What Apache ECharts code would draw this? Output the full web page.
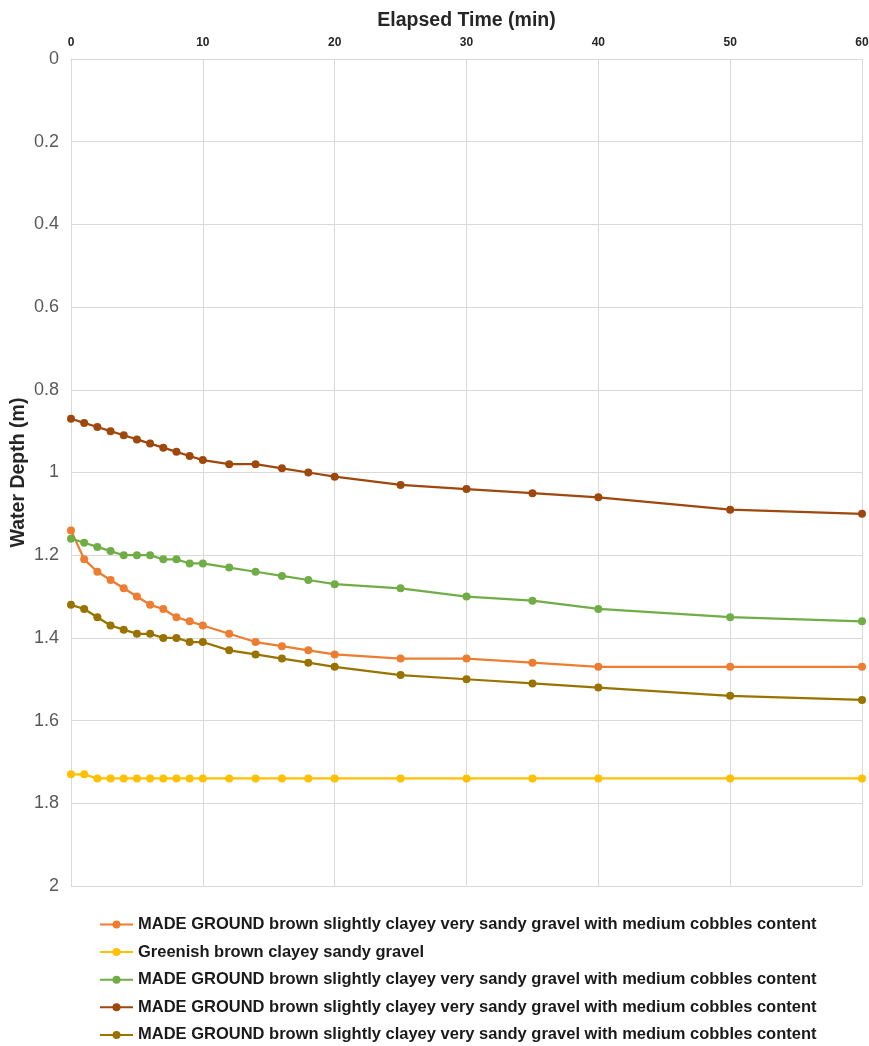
<!DOCTYPE html>
<html>
<head>
<meta charset="utf-8">
<script src="https://cdn.jsdelivr.net/npm/echarts@6/dist/echarts.min.js"></script>
<style>
  html, body { margin: 0; padding: 0; background: #ffffff; }
  #chart { width: 869px; height: 1046px; }
</style>
</head>
<body>
<div id="chart"></div>
<script>
// Elapsed time of each reading (min)
const elapsedMinutes = [0, 1, 2, 3, 4, 5, 6, 7, 8, 9, 10, 12, 14, 16, 18, 20, 25, 30, 35, 40, 50, 60];

// Water depth readings (m) for each test
const depthOrange = [1.14, 1.21, 1.24, 1.26, 1.28, 1.30, 1.32, 1.33, 1.35, 1.36, 1.37, 1.39, 1.41, 1.42, 1.43, 1.44, 1.45, 1.45, 1.46, 1.47, 1.47, 1.47];
const depthYellow = [1.73, 1.73, 1.74, 1.74, 1.74, 1.74, 1.74, 1.74, 1.74, 1.74, 1.74, 1.74, 1.74, 1.74, 1.74, 1.74, 1.74, 1.74, 1.74, 1.74, 1.74, 1.74];
const depthGreen  = [1.16, 1.17, 1.18, 1.19, 1.20, 1.20, 1.20, 1.21, 1.21, 1.22, 1.22, 1.23, 1.24, 1.25, 1.26, 1.27, 1.28, 1.30, 1.31, 1.33, 1.35, 1.36];
const depthBrown  = [0.87, 0.88, 0.89, 0.90, 0.91, 0.92, 0.93, 0.94, 0.95, 0.96, 0.97, 0.98, 0.98, 0.99, 1.00, 1.01, 1.03, 1.04, 1.05, 1.06, 1.09, 1.10];
const depthOlive  = [1.32, 1.33, 1.35, 1.37, 1.38, 1.39, 1.39, 1.40, 1.40, 1.41, 1.41, 1.43, 1.44, 1.45, 1.46, 1.47, 1.49, 1.50, 1.51, 1.52, 1.54, 1.55];

// Series names must be unique for the legend; trailing spaces are trimmed when drawn
const seriesNames = [
  'MADE GROUND brown slightly clayey very sandy gravel with medium cobbles content',
  'Greenish brown clayey sandy gravel',
  'MADE GROUND brown slightly clayey very sandy gravel with medium cobbles content ',
  'MADE GROUND brown slightly clayey very sandy gravel with medium cobbles content  ',
  'MADE GROUND brown slightly clayey very sandy gravel with medium cobbles content   '
];
const seriesColors = ['#ED7D31', '#FFC000', '#70AD47', '#9E480E', '#997300'];
const seriesValues = [depthOrange, depthYellow, depthGreen, depthBrown, depthOlive];

const FONT = '"Liberation Sans", Arial, sans-serif';
const GRID_COLOR = '#D9D9D9';

const chart = echarts.init(document.getElementById('chart'), null, { renderer: 'canvas' });

const series = seriesValues.map((vals, i) => ({
  name: seriesNames[i],
  type: 'line',
  data: elapsedMinutes.map((t, k) => [t, vals[k]]),
  symbol: 'circle',
  symbolSize: 8,
  showSymbol: true,
  lineStyle: { color: seriesColors[i], width: 2.25 },
  itemStyle: { color: seriesColors[i], borderWidth: 0 },
  emphasis: { disabled: true },
  animation: false
}));

chart.setOption({
  animation: false,
  backgroundColor: '#ffffff',
  textStyle: { fontFamily: FONT },
  grid: { left: 71, right: 7, top: 59, height: 827, containLabel: false, outerBoundsMode: 'none' },
  xAxis: {
    type: 'value',
    position: 'top',
    min: 0, max: 60, interval: 10,
    name: 'Elapsed Time (min)',
    nameLocation: 'middle',
    nameGap: 28,
    nameTextStyle: { fontFamily: FONT, fontSize: 19.5, fontWeight: 'bold', color: '#262626' },
    axisLine: { show: true, lineStyle: { color: GRID_COLOR, width: 1 } },
    axisTick: { show: false },
    axisLabel: { fontFamily: FONT, fontSize: 12, fontWeight: 'bold', color: '#262626', margin: 10 },
    splitLine: { show: true, lineStyle: { color: GRID_COLOR, width: 1 } }
  },
  yAxis: {
    type: 'value',
    inverse: true,
    min: 0, max: 2, interval: 0.2,
    name: 'Water Depth (m)',
    nameLocation: 'middle',
    nameGap: 42,
    nameMoveOverlap: false,
    nameRotate: 90,
    nameTextStyle: { fontFamily: FONT, fontSize: 19.5, fontWeight: 'bold', color: '#262626' },
    axisLine: { show: true, lineStyle: { color: GRID_COLOR, width: 1 } },
    axisTick: { show: false },
    axisLabel: {
      fontFamily: FONT, fontSize: 18, color: '#595959', margin: 12,
      formatter: v => String(Math.round(v * 10) / 10)
    },
    splitLine: { show: true, lineStyle: { color: GRID_COLOR, width: 1 } }
  },
  legend: {
    orient: 'vertical',
    left: 99,
    top: 916,
    height: 200,
    padding: 0,
    itemWidth: 33,
    itemHeight: 10,
    itemGap: 10.6,
    selectedMode: false,
    textStyle: { fontFamily: FONT, fontSize: 16.5, fontWeight: 'bold', color: '#1a1a1a', lineHeight: 16 },
    formatter: n => n.trim(),
    data: seriesNames
  },
  series: series
});
</script>
</body>
</html>
